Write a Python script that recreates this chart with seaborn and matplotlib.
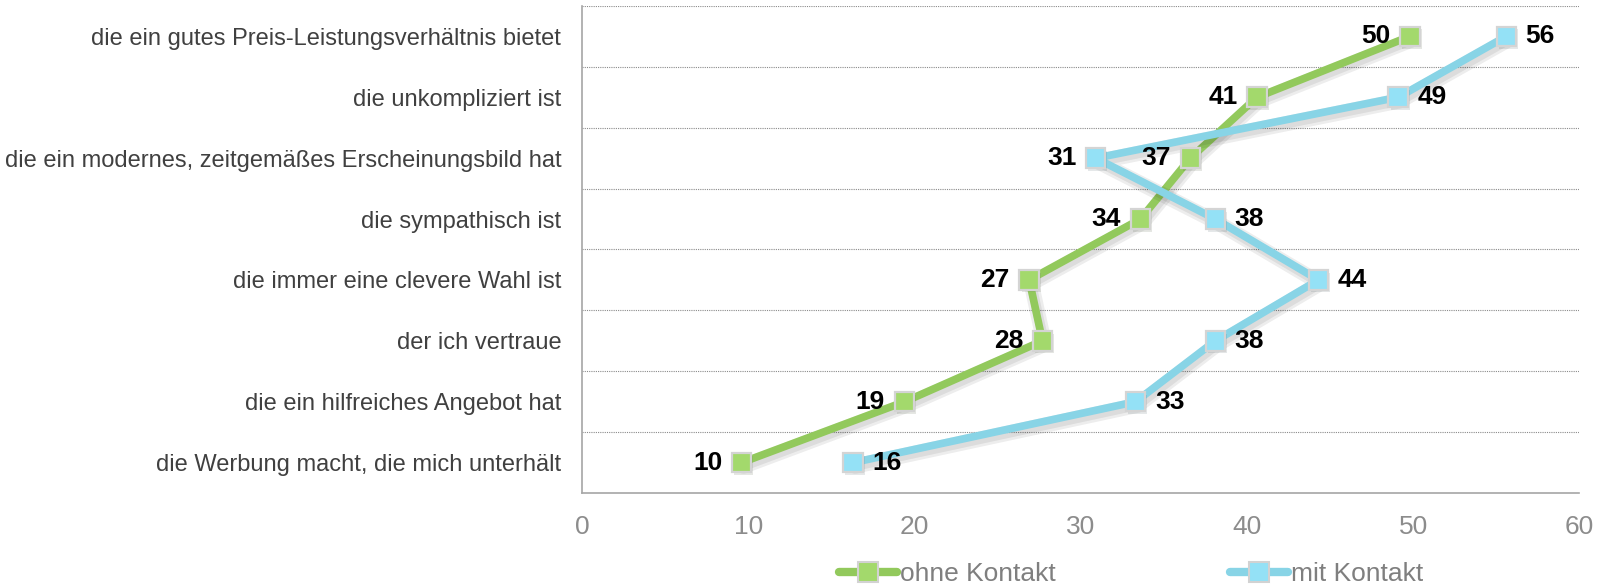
import matplotlib
matplotlib.use("Agg")
import matplotlib.pyplot as plt
import matplotlib.patheffects as pe
from matplotlib.lines import Line2D
import seaborn as sns
import pandas as pd

# --- data ---
categories = [
    "die ein gutes Preis-Leistungsverhältnis bietet",
    "die unkompliziert ist",
    "die ein modernes, zeitgemäßes Erscheinungsbild hat",
    "die sympathisch ist",
    "die immer eine clevere Wahl ist",
    "der ich vertraue",
    "die ein hilfreiches Angebot hat",
    "die Werbung macht, die mich unterhält",
]
ohne_kontakt = [49.8, 40.6, 36.6, 33.6, 26.9, 27.7, 19.4, 9.6]
mit_kontakt = [55.6, 49.1, 30.9, 38.1, 44.3, 38.1, 33.3, 16.3]
# side of the value label: -1 = left of marker, +1 = right
ohne_side = [-1, -1, -1, -1, -1, -1, -1, -1]
mit_side = [1, 1, -1, 1, 1, 1, 1, 1]
x_ticks = [0, 10, 20, 30, 40, 50, 60]

green_line, green_face = "#92c95c", "#a3d96c"
blue_line, blue_face = "#88d4e6", "#94e1f6"

sns.set_style("white")
plt.rcParams["font.family"] = ["Liberation Sans", "DejaVu Sans"]

pos = list(range(len(categories)))
df = pd.DataFrame({
    "pos": pos * 2,
    "value": ohne_kontakt + mit_kontakt,
    "serie": ["ohne Kontakt"] * len(pos) + ["mit Kontakt"] * len(pos),
})

fig, ax = plt.subplots(figsize=(16.1, 5.87), dpi=100)
fig.subplots_adjust(left=0.3615, right=0.981, top=0.99, bottom=0.16)

# soft drop shadow like the office chart
shadow = [pe.SimpleLineShadow(offset=(1.5, -2.5), shadow_color="black", alpha=0.07, linewidth=11),
          pe.SimpleLineShadow(offset=(1.5, -2.5), shadow_color="black", alpha=0.07, linewidth=7),
          pe.Normal()]

series = [("ohne Kontakt", green_line, green_face, ohne_kontakt, ohne_side),
          ("mit Kontakt", blue_line, blue_face, mit_kontakt, mit_side)]

for name, lc, fc, vals, sides in series:
    sub = df[df["serie"] == name]
    sns.lineplot(data=sub, x="value", y="pos", orient="y", sort=True, ax=ax,
                 color=lc, linewidth=5.5, path_effects=shadow, zorder=3)
    # markers on top, with their own light shadow
    ax.plot(sub["value"], sub["pos"], linestyle="none", marker="s", markersize=14,
            markerfacecolor=fc, markeredgecolor="#d4d4d4", markeredgewidth=1.6,
            path_effects=[pe.SimplePatchShadow(offset=(1.5, -2), alpha=0.12), pe.Normal()],
            zorder=4)
    for p, v, s in zip(pos, vals, sides):
        ax.annotate(f"{v:.0f}", (v, p), xytext=(14 * s, 0), textcoords="offset points",
                    ha="left" if s > 0 else "right", va="center",
                    fontsize=19, fontweight="bold", color="black", zorder=5)

ax.set_xlim(0, 60)
ax.set_ylim(len(categories) - 0.5, -0.5)
ax.set_xticks(x_ticks)
ax.set_yticks(pos)
ax.set_yticklabels(categories, fontsize=17, color="#404040")
ax.tick_params(axis="x", labelsize=19, colors="#8c8c8c", length=0, pad=16)
ax.tick_params(axis="y", length=0, pad=15)
ax.set_xlabel("")
ax.set_ylabel("")

# dotted separators between categories
for b in [p - 0.5 for p in pos]:
    ax.axhline(b, color="#8a8a8a", linestyle=(0, (1, 1)), linewidth=0.8, zorder=1)

for side in ["top", "right"]:
    ax.spines[side].set_visible(False)
for side in ["left", "bottom"]:
    ax.spines[side].set_color("#a6a6a6")
    ax.spines[side].set_linewidth(1.2)

handles = [Line2D([0], [0], color=lc, linewidth=6, marker="s", markersize=14,
                  markerfacecolor=fc, markeredgecolor="#d2d2d2", markeredgewidth=1.5,
                  solid_capstyle="round")
           for _, lc, fc, _, _ in series]
fig.legend(handles, [s[0] for s in series], loc="center", bbox_to_anchor=(0.7025, 0.022),
           ncol=2, frameon=False, fontsize=19, labelcolor="#7f7f7f",
           handlelength=2.2, handletextpad=0.1, columnspacing=6.6)

fig.savefig("out.png", dpi=100)
